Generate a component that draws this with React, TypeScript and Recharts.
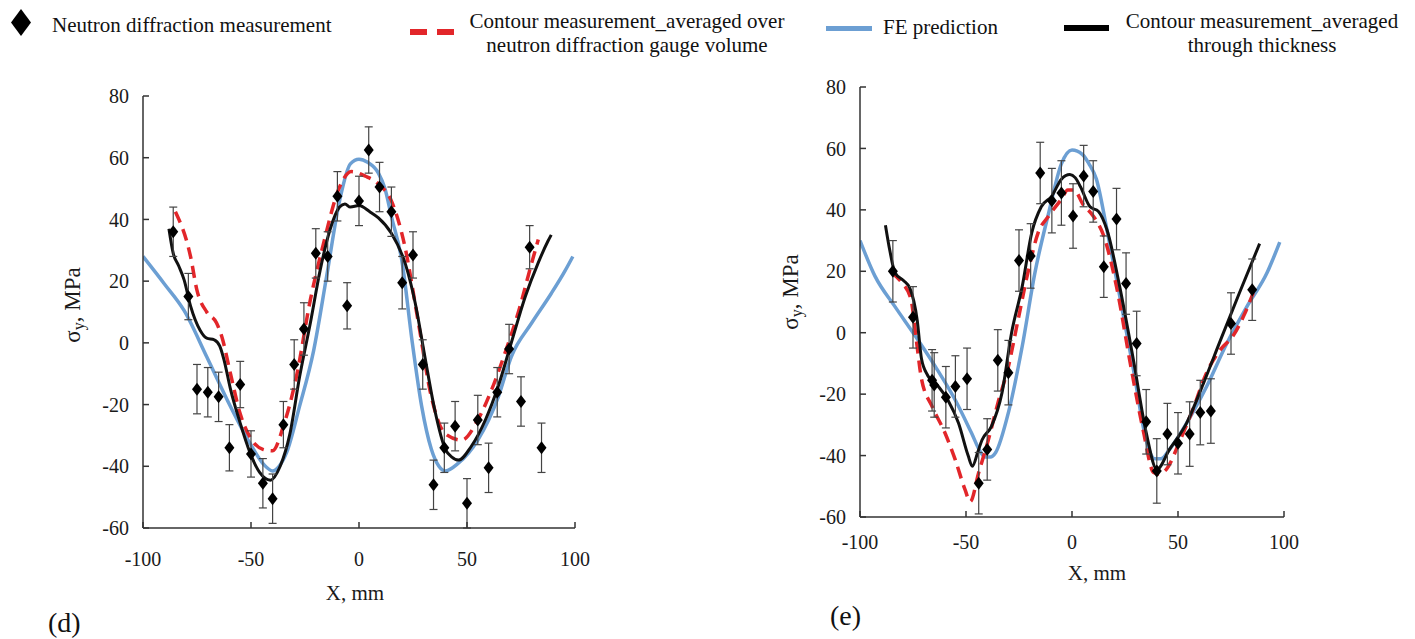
import { ComposedChart, Line, Scatter, ErrorBar, XAxis, YAxis, Label } from 'recharts';

const FONT = '"Liberation Serif", "Times New Roman", serif';
const BLUE = '#6c9fd3';
const RED = '#e2262a';
const BLACK = '#111111';

const xTicks = [-100, -50, 0, 50, 100];
const yTicks = [-60, -40, -20, 0, 20, 40, 60, 80];

type Pt = [number, number];
type Meas = [number, number, number];

// panel (d): [x mm, stress MPa, error]
const dNeutron: Meas[] = [
  [-86, 36, 8], [-79, 15, 7.5], [-75, -15, 8], [-70, -16, 8], [-65, -17.5, 8],
  [-60, -34, 7.5], [-55, -13.5, 7.5], [-50, -36, 7.5], [-44.5, -45.5, 8], [-40, -50.5, 8],
  [-35, -26.5, 7.5], [-30, -7, 8], [-25.5, 4.5, 8.5], [-20, 29, 8], [-14.5, 28, 8],
  [-10, 47.5, 8], [-5.5, 12, 7.5], [0, 46, 8], [4.5, 62.5, 7.5], [9.5, 50.5, 8],
  [15, 42.5, 8], [20, 19.5, 8.5], [25, 28.5, 7.5], [29.5, -7, 8], [34.5, -46, 8],
  [39.5, -34, 8], [44.5, -27, 8], [50, -52, 8], [55, -25, 8], [60, -40.5, 8],
  [64, -16, 8], [69.5, -2, 8], [75, -19, 8], [79, 31, 7], [84.5, -34, 8],
];

const dFE: Pt[] = [
  [-100, 28], [-90, 19], [-81, 10.5], [-70.5, -4.5], [-61, -18.5], [-50.5, -32.5],
  [-44, -39.5], [-40, -41.5], [-37, -40], [-33.5, -35.5], [-27.5, -20.5], [-21, -2.5],
  [-15, 21.5], [-9, 46], [-4, 58], [0, 59.5], [4, 58.5], [9, 55], [12, 50], [15, 41],
  [20, 26], [24.5, 1], [29, -20.5], [33.5, -34.5], [37, -40], [40, -41.5], [46, -39],
  [55, -31.5], [64.5, -17.5], [70.5, -4.5], [80, 6.5], [89, 16], [95.5, 23.5], [99, 28],
];

const dGauge: Pt[] = [
  [-85, 42.5], [-78, 28], [-75, 17], [-70.5, 10], [-66, 6.5], [-63.5, 2], [-59.5, -10],
  [-55, -23], [-50.5, -30.5], [-44.5, -34.5], [-40, -35], [-35, -27], [-29, -11],
  [-22.5, 14], [-16.5, 32], [-9, 50.5], [-3.5, 55.5], [3, 54], [9, 51.5], [15, 46],
  [21, 32], [27.5, 6.5], [33.5, -17.5], [40, -29.5], [47.5, -31.5], [55, -25],
  [61.5, -15], [67.5, -3.5], [74, 10.5], [80, 26], [83, 33.5],
];

const dThick: Pt[] = [
  [-88, 37], [-86, 29], [-83.5, 25], [-81, 20.5], [-78, 12], [-73.5, 4], [-70.5, 1.5],
  [-67, 1], [-64.5, -1], [-62.5, -5.5], [-59.5, -15], [-55, -26], [-50.5, -35.5],
  [-46, -42], [-41, -44.5], [-36.5, -40], [-32, -29.5], [-27.5, -11], [-22.5, 6.5],
  [-18, 23.5], [-13.5, 36.5], [-9, 44], [-6.5, 45], [-4, 44], [0, 44.5], [5, 42.5],
  [9, 40.5], [15, 35.5], [21.5, 25.5], [26, 13], [30.5, -4.5], [35, -21.5], [40, -34.5],
  [43, -37], [46, -38], [52, -33.5], [58.5, -25], [64.5, -14], [70.5, 0], [77, 15],
  [83, 26], [87.5, 33], [89, 35],
];

// panel (e)
const eNeutron: Meas[] = [
  [-84.5, 20, 10], [-75, 5, 10], [-66, -15.5, 10], [-65, -17, 10.5], [-59.5, -21, 10],
  [-55, -17.5, 10], [-49.5, -15, 10], [-44, -49, 10], [-40, -38, 10], [-35, -9, 10],
  [-30, -13, 10.5], [-25, 23.5, 10], [-19.5, 25, 10.5], [-15, 52, 10], [-9.5, 43, 10.5],
  [-5, 45.5, 10.5], [0.5, 38, 10.5], [5.5, 51, 10], [10, 46, 10], [15, 21.5, 10],
  [21, 37, 10], [25.5, 16, 10], [30.5, -3.5, 10.5], [35, -29, 10.5], [40, -45, 10.5],
  [45, -33, 10], [50, -36, 10], [55.5, -33, 10.5], [60.5, -26, 10.5], [65.5, -25.5, 10.5],
  [75, 3, 10], [85, 14, 10],
];

const eFE: Pt[] = [
  [-100, 30], [-93, 18.5], [-83.5, 8.5], [-74, -1], [-64.5, -11], [-55, -22],
  [-47.5, -32.5], [-43, -39], [-41, -40.5], [-38.5, -40.5], [-36, -39], [-30, -26],
  [-23.5, -4.5], [-17.5, 19.5], [-11, 39], [-5, 55], [0, 59.5], [5, 58], [8, 55],
  [11.5, 50], [16.5, 33.5], [22.5, 12], [29, -12], [35, -35], [39, -41], [42, -41],
  [46, -38], [54, -29.5], [63.5, -17.5], [73, -3.5], [82.5, 8.5], [92, 19.5], [98, 29.5],
];

const eGauge: Pt[] = [
  [-85, 19.5], [-80.5, 16.5], [-76, 11], [-73.5, -2], [-71, -15], [-66, -24], [-60, -32.5],
  [-55, -41.5], [-50.5, -51], [-48, -55], [-44, -45.5], [-39.5, -35], [-35, -23],
  [-30, -11], [-25.5, 4], [-20.5, 20.5], [-16, 32.5], [-11, 38], [-5, 43.5], [-2, 46.5],
  [1, 46.5], [5, 42], [10, 38], [15, 31.5], [21, 15], [27.5, -10], [33.5, -31.5],
  [38.5, -45.5], [41, -46], [44.5, -44.5], [51, -35], [57, -25], [63.5, -13], [70, -5.5],
  [76, -1], [81, 5.5], [85.5, 13],
];

const eThick: Pt[] = [
  [-88, 35], [-86, 27], [-83.5, 19.5], [-79.5, 17], [-76.5, 14.5], [-73, 4], [-71, -8.5],
  [-68, -14], [-63, -17.5], [-58.5, -22], [-53.5, -29.5], [-49, -40], [-47, -43.5],
  [-44.5, -39], [-42.5, -35], [-38, -30.5], [-33, -19.5], [-28.5, 0], [-23.5, 15],
  [-19, 32.5], [-14.5, 41], [-9.5, 44.5], [-5, 50], [-1, 51.5], [1.5, 50.5], [4, 47.5],
  [8.5, 41], [12.5, 39.5], [16.5, 33.5], [22.5, 15], [29, -9], [35, -32.5], [40, -44.5],
  [46, -38], [54, -29.5], [62, -16.5], [70, -2.5], [79, 13], [88.5, 29],
];

const toXY = (pts: Pt[]) => pts.map(([x, y]) => ({ x, y }));
const toMeas = (pts: Meas[]) => pts.map(([x, y, err]) => ({ x, y, err }));

const Diamond = (props: any) => {
  const { cx, cy } = props;
  if (cx == null || cy == null) return null;
  return <polygon points={`${cx},${cy - 6.5} ${cx + 5},${cy} ${cx},${cy + 6.5} ${cx - 5},${cy}`} fill="#000" />;
};

interface PanelProps {
  left: number;
  width: number;
  margin: { top: number; right: number; bottom: number; left: number };
  yAxisWidth: number;
  xTickMargin: number;
  yTitle: [number, number];
  xTitle: [number, number];
  neutron: Meas[];
  fe: Pt[];
  gauge: Pt[];
  thick: Pt[];
}

const tickStyle = { fontSize: 20, fill: '#1a1a1a', fontFamily: FONT };

function Panel(p: PanelProps) {
  const [ytx, yty] = p.yTitle;
  const [xtx, xty] = p.xTitle;
  return (
    <div style={{ position: 'absolute', left: p.left, top: 0, fontFamily: FONT }}>
      <ComposedChart width={p.width} height={639} margin={p.margin} style={{ fontFamily: FONT }}>
        <XAxis
          type="number"
          dataKey="x"
          domain={[-100, 100]}
          ticks={xTicks}
          allowDataOverflow
          height={30}
          stroke="#333"
          strokeWidth={1.5}
          tickSize={-6}
          tickMargin={p.xTickMargin}
          tick={tickStyle}
        >
          <Label
            content={() => (
              <text x={xtx} y={xty} textAnchor="middle" dominantBaseline="central" fontSize={21} fontFamily={FONT} fill="#1a1a1a">
                X, mm
              </text>
            )}
          />
        </XAxis>
        <YAxis
          type="number"
          dataKey="y"
          domain={[-60, 80]}
          ticks={yTicks}
          allowDataOverflow
          width={p.yAxisWidth}
          stroke="#333"
          strokeWidth={1.5}
          tickSize={-6}
          tickMargin={20}
          tick={tickStyle}
        >
          <Label
            content={() => (
              <text
                x={ytx}
                y={yty}
                textAnchor="middle"
                dominantBaseline="central"
                fontSize={23}
                fontFamily={FONT}
                fill="#1a1a1a"
                transform={`rotate(-90, ${ytx}, ${yty})`}
              >
                σ<tspan dy={6} fontSize={16}>y</tspan>
                <tspan dy={-6}>, MPa</tspan>
              </text>
            )}
          />
        </YAxis>
        <Line data={toXY(p.fe)} dataKey="y" type="monotone" stroke={BLUE} strokeWidth={3.5} dot={false} isAnimationActive={false} />
        <Line data={toXY(p.gauge)} dataKey="y" type="monotone" stroke={RED} strokeWidth={3.5} strokeDasharray="12 7" dot={false} isAnimationActive={false} />
        <Line data={toXY(p.thick)} dataKey="y" type="monotone" stroke={BLACK} strokeWidth={3} dot={false} isAnimationActive={false} />
        <Scatter data={toMeas(p.neutron)} dataKey="y" shape={Diamond} isAnimationActive={false}>
          <ErrorBar dataKey="err" direction="y" width={4} stroke="#444" strokeWidth={1.2} />
        </Scatter>
      </ComposedChart>
    </div>
  );
}

const legendText: React.CSSProperties = {
  position: 'absolute',
  fontFamily: FONT,
  fontSize: 21,
  lineHeight: '24px',
  color: '#111',
  whiteSpace: 'nowrap',
};

export default function App() {
  return (
    <div style={{ position: 'absolute', left: 0, top: 0, width: 1415, height: 639, background: '#fff', overflow: 'hidden', fontFamily: FONT }}>
      {/* legend */}
      <svg style={{ position: 'absolute', left: 10, top: 9 }} width={22} height={28}>
        <polygon points="11,0 21,13.5 11,27 1,13.5" fill="#000" />
      </svg>
      <div style={{ ...legendText, left: 52, top: 13 }}>Neutron diffraction measurement</div>

      <svg style={{ position: 'absolute', left: 410, top: 29 }} width={46} height={8}>
        <rect x={0} y={0} width={17} height={6} fill={RED} />
        <rect x={27} y={0} width={17} height={6} fill={RED} />
      </svg>
      <div style={{ ...legendText, left: 467, top: 9, textAlign: 'center', width: 320 }}>
        Contour measurement_averaged over
        <br />
        neutron diffraction gauge volume
      </div>

      <div style={{ position: 'absolute', left: 826, top: 26, width: 46, height: 5, background: BLUE }} />
      <div style={{ ...legendText, left: 883, top: 15 }}>FE prediction</div>

      <div style={{ position: 'absolute', left: 1064, top: 25, width: 45, height: 6, background: '#000' }} />
      <div style={{ ...legendText, left: 1122, top: 9, textAlign: 'center', width: 280 }}>
        Contour measurement_averaged
        <br />
        through thickness
      </div>

      <Panel
        left={0}
        width={620}
        margin={{ top: 96, right: 45, bottom: 81, left: 0 }}
        yAxisWidth={143}
        xTickMargin={30}
        yTitle={[72, 305]}
        xTitle={[355, 593]}
        neutron={dNeutron}
        fe={dFE}
        gauge={dGauge}
        thick={dThick}
      />
      <Panel
        left={720}
        width={695}
        margin={{ top: 87, right: 131, bottom: 92, left: 0 }}
        yAxisWidth={140}
        xTickMargin={24}
        yTitle={[70, 292]}
        xTitle={[377, 573]}
        neutron={eNeutron}
        fe={eFE}
        gauge={eGauge}
        thick={eThick}
      />

      <div style={{ position: 'absolute', left: 48, top: 607, fontFamily: FONT, fontSize: 28, lineHeight: '32px', color: '#111' }}>(d)</div>
      <div style={{ position: 'absolute', left: 830, top: 600, fontFamily: FONT, fontSize: 28, lineHeight: '32px', color: '#111' }}>(e)</div>
    </div>
  );
}
